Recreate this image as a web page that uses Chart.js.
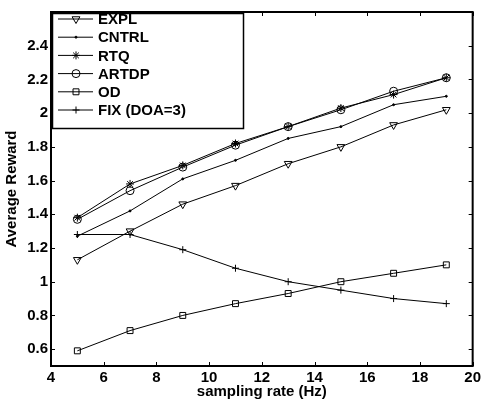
<!DOCTYPE html>
<html>
<head>
<meta charset="utf-8">
<script src="https://cdn.jsdelivr.net/npm/chart.js@4"></script>
<style>
  html, body { margin: 0; padding: 0; background: #fff; }
  #wrap { width: 484px; height: 402px; position: relative; }
</style>
</head>
<body>
<div id="wrap"><canvas id="myChart"></canvas></div>
<script>
// data
const rates = [5, 7, 9, 11, 13, 15, 17, 19];
const expl  = [1.13, 1.30, 1.46, 1.57, 1.70, 1.80, 1.93, 2.02];
const cntrl = [1.27, 1.42, 1.61, 1.72, 1.85, 1.92, 2.05, 2.10];
const rtq   = [1.38, 1.58, 1.69, 1.82, 1.92, 2.03, 2.11, 2.21];
const artdp = [1.37, 1.54, 1.68, 1.81, 1.92, 2.02, 2.13, 2.21];
const od    = [0.59, 0.71, 0.80, 0.87, 0.93, 1.00, 1.05, 1.10];
const fix   = [1.28, 1.28, 1.19, 1.08, 1.00, 0.95, 0.90, 0.87];

const xTicks = [4, 6, 8, 10, 12, 14, 16, 18, 20];
const yTicks = [0.6, 0.8, 1.0, 1.2, 1.4, 1.6, 1.8, 2.0, 2.2, 2.4];

const FONT = '"Liberation Sans", Arial, sans-serif';

function pts(values) {
    return values.map((v, i) => ({ x: rates[i], y: v }));
}

function series(label, values, style, radius, fill, rotation) {
    return {
        label: label,
        data: pts(values),
        borderColor: '#000',
        borderWidth: 1,
        pointStyle: style,
        pointRadius: radius,
        pointRotation: rotation || 0,
        pointBorderColor: '#000',
        pointBackgroundColor: fill,
        pointBorderWidth: 1,
        tension: 0,
        fill: false
    };
}

const datasets = [
    series('EXPL', expl, 'triangle', 4.5, 'rgba(0,0,0,0)', 180),
    series('CNTRL', cntrl, 'circle', 1, '#000'),
    series('RTQ', rtq, 'star', 4, 'rgba(0,0,0,0)'),
    series('ARTDP', artdp, 'circle', 4, 'rgba(0,0,0,0)'),
    series('OD', od, 'rect', 4.2, 'rgba(0,0,0,0)'),
    series('FIX (DOA=3)', fix, 'cross', 3.5, 'rgba(0,0,0,0)')
];

// box with inward ticks on all four sides, matlab style
const framePlugin = {
    id: 'frame',
    afterDraw(chart) {
        const ctx = chart.ctx;
        const a = chart.chartArea;
        const xs = chart.scales.x, ys = chart.scales.y;
        ctx.save();
        ctx.strokeStyle = '#000';
        ctx.lineWidth = 1;
        ctx.beginPath();
        xTicks.forEach(t => {
            const px = Math.round(xs.getPixelForValue(t)) + 0.5;
            ctx.moveTo(px, a.bottom); ctx.lineTo(px, a.bottom - 4);
            ctx.moveTo(px, a.top); ctx.lineTo(px, a.top + 4);
        });
        yTicks.forEach(t => {
            const py = Math.round(ys.getPixelForValue(t)) + 0.5;
            ctx.moveTo(a.left, py); ctx.lineTo(a.left + 4, py);
            ctx.moveTo(a.right, py); ctx.lineTo(a.right - 4, py);
        });
        ctx.stroke();
        ctx.lineWidth = 2;
        ctx.strokeRect(a.left, a.top, a.right - a.left, a.bottom - a.top);

        // legend
        const lx = a.left + 1, ly = a.top + 1, lw = 191, lh = 115;
        ctx.fillStyle = '#fff';
        ctx.fillRect(lx, ly, lw, lh);
        ctx.lineWidth = 1.5;
        ctx.strokeRect(lx + 0.5, ly + 0.5, lw, lh);
        ctx.font = 'bold 15px ' + FONT;
        ctx.textBaseline = 'middle';
        chart.data.datasets.forEach((ds, i) => {
            const y = 19 + i * 18.2;
            ctx.strokeStyle = '#000';
            ctx.lineWidth = 1;
            ctx.beginPath();
            ctx.moveTo(58, y); ctx.lineTo(93, y);
            ctx.stroke();
            ctx.fillStyle = ds.pointBackgroundColor;
            Chart.helpers.drawPoint(ctx, {
                pointStyle: ds.pointStyle,
                radius: ds.pointRadius,
                rotation: ds.pointRotation,
                borderWidth: 1
            }, 76, y);
            ctx.fillStyle = '#000';
            ctx.fillText(ds.label, 98, y + 1);
        });
        ctx.restore();
    }
};

const ctx = document.getElementById('myChart').getContext('2d');
const myChart = new Chart(ctx, {
    type: 'line',
    data: { datasets: datasets },
    options: {
        responsive: true,
        maintainAspectRatio: false,
        animation: false,
        layout: { padding: { left: 0, top: 5, right: 9, bottom: 0 } },
        plugins: {
            legend: { display: false },
            tooltip: { enabled: false }
        },
        scales: {
            x: {
                type: 'linear',
                min: 4,
                max: 20,
                afterBuildTicks: s => { s.ticks = xTicks.map(v => ({ value: v })); },
                afterFit: s => { s.height = 36; },
                grid: { display: false, drawTicks: false },
                border: { display: false },
                ticks: {
                    color: '#000',
                    padding: 3,
                    font: { family: FONT, size: 15, weight: 'bold' }
                },
                title: {
                    display: true,
                    text: 'sampling rate (Hz)',
                    color: '#000',
                    padding: { top: 0, bottom: 1 },
                    font: { family: FONT, size: 15, weight: 'bold' }
                }
            },
            y: {
                min: 0.5,
                max: 2.6,
                afterBuildTicks: s => { s.ticks = yTicks.map(v => ({ value: v })); },
                afterFit: s => { s.width = 51; },
                grid: { display: false, drawTicks: false },
                border: { display: false },
                ticks: {
                    color: '#000',
                    padding: 3,
                    font: { family: FONT, size: 15, weight: 'bold' },
                    callback: v => String(Math.round(v * 10) / 10)
                },
                title: {
                    display: true,
                    text: 'Average Reward',
                    color: '#000',
                    padding: { top: 3, bottom: 0 },
                    font: { family: FONT, size: 15, weight: 'bold' }
                }
            }
        }
    },
    plugins: [framePlugin]
});
</script>
</body>
</html>
